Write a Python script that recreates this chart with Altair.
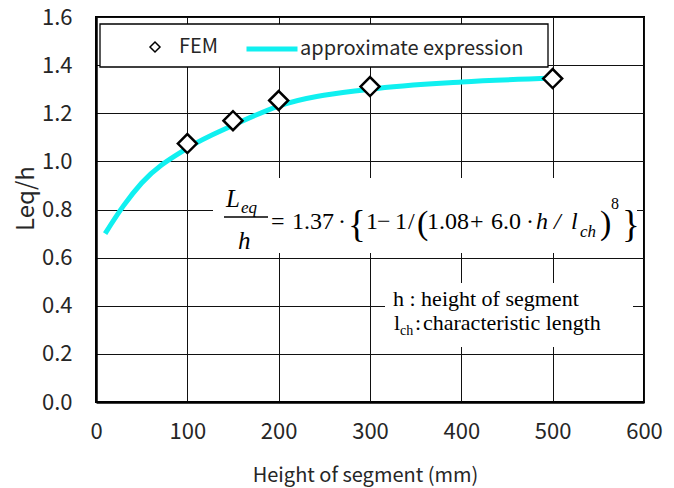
import altair as alt
import pandas as pd

# ---- data ----
fem_h = [100, 150, 200, 300, 500]
fem_v = [1.074, 1.169, 1.253, 1.311, 1.344]

approx_h = [10, 30, 50, 100, 150, 200, 300, 400, 500]
approx_v = [0.70, 0.815, 0.91, 1.055, 1.15, 1.23, 1.30, 1.33, 1.345]

x_ticks = [0, 100, 200, 300, 400, 500, 600]
y_ticks = [0.0, 0.2, 0.4, 0.6, 0.8, 1.0, 1.2, 1.4, 1.6]

FEM_LABEL = "FEM"
APPROX_LABEL = "approximate expression"
CYAN = "#10F0F0"
GOTHIC = "Noto Sans CJK JP"
SERIF = "Liberation Serif"
TXT = "#262626"

fem_df = pd.DataFrame({"h": fem_h, "v": fem_v, "s": FEM_LABEL})
approx_df = pd.DataFrame({"h": approx_h, "v": approx_v, "s2": APPROX_LABEL})
one = pd.DataFrame({"a": [0]})

L, T = 96, 17  # plot origin in page pixels


def X(px):
    return px - L


def Y(py):
    return py - T


def text(s, x, y, size, font=SERIF, style="normal", align="left",
         baseline="alphabetic", color="black"):
    return alt.Chart(one).mark_text(
        text=s, font=font, fontSize=size, fontStyle=style, align=align,
        baseline=baseline, color=color
    ).encode(x=alt.value(X(x)), y=alt.value(Y(y)))


def box(x1, y1, x2, y2, stroke=None, sw=0):
    kw = dict(fill="white", opacity=1)
    if stroke:
        kw.update(stroke=stroke, strokeWidth=sw)
    return alt.Chart(one).mark_rect(**kw).encode(
        x=alt.value(X(x1)), x2=alt.value(X(x2)),
        y=alt.value(Y(y1)), y2=alt.value(Y(y2)))


xs = alt.Scale(domain=[0, 600], nice=False)
ys = alt.Scale(domain=[0, 1.6], nice=False)

x_axis = alt.Axis(values=x_ticks, format="d", title="Height of segment (mm)",
                  titleX=269, titleY=73, titleAlign="center", titleBaseline="middle")
y_axis = alt.Axis(values=y_ticks, format=".1f", title="Leq/h",
                  titleX=-70, titleY=181, titleAlign="center", titleBaseline="middle")

legend_common = dict(orient="none", title=None, padding=0, labelLimit=400,
                     labelFont=GOTHIC, labelFontSize=20, labelColor=TXT)

line = alt.Chart(approx_df).mark_line(strokeWidth=5, interpolate="monotone").encode(
    x=alt.X("h:Q", scale=xs, axis=x_axis),
    y=alt.Y("v:Q", scale=ys, axis=y_axis),
    color=alt.Color("s2:N", scale=alt.Scale(domain=[APPROX_LABEL], range=[CYAN]),
                    legend=alt.Legend(legendX=148, legendY=4,
                                      symbolType="stroke", symbolSize=2601,
                                      symbolStrokeWidth=5, labelOffset=0,
                                      **legend_common)),
)

fem_legend = alt.Legend(legendX=49, legendY=20, symbolSize=100, symbolStrokeWidth=1.5,
                        symbolFillColor="white", symbolOpacity=1, labelOffset=14,
                        **legend_common)
points = alt.Chart(fem_df).mark_point(
    fill="white", strokeWidth=2.5, size=360, opacity=1, fillOpacity=1
).encode(
    x=alt.X("h:Q", scale=xs),
    y=alt.Y("v:Q", scale=ys),
    shape=alt.Shape("s:N", scale=alt.Scale(domain=[FEM_LABEL], range=["diamond"]),
                    legend=fem_legend),
    stroke=alt.Stroke("s:N", scale=alt.Scale(domain=[FEM_LABEL], range=["black"]),
                      legend=fem_legend),
)

# white boxes (legend frame, formula, notes)
legend_box = box(100, 24, 548, 67, stroke="black", sw=1.3)
formula_box = box(213, 178, 637, 253)
note_box = box(385, 283, 633, 347)

# formula  L_eq / h = 1.37 · {1 − 1/(1.08 + 6.0 · h / l_ch)^8}
frac_bar = alt.Chart(one).mark_rule(color="black", strokeWidth=1.3).encode(
    x=alt.value(X(224)), x2=alt.value(X(268)), y=alt.value(Y(217)))
formula = [
    text("L", 226, 207, 25, style="italic"),
    text("eq", 241, 213, 17, style="italic"),
    frac_bar,
    text("h", 238, 249, 25, style="italic"),
    text("=", 271, 229, 24),
    text("1.37", 292, 229, 24),
    text("·", 338, 229, 24),
    text("{", 348, 237, 37),
    text("1", 366, 229, 24),
    text("−", 377, 229, 24),
    text("1", 395, 229, 24),
    text("/", 408, 229, 24),
    text("(", 417, 234, 34),
    text("1.08", 427, 229, 24),
    text("+", 470, 229, 24),
    text("6.0", 491, 229, 24),
    text("·", 526, 229, 24),
    text("h", 536, 229, 24, style="italic"),
    text("/", 554, 229, 24, style="italic"),
    text("l", 571, 229, 24, style="italic"),
    text("ch", 580, 237, 17, style="italic"),
    text(")", 600, 234, 34),
    text("8", 611, 209, 16),
    text("}", 622, 237, 37),
]

notes = [
    text("h : height  of segment", 393, 306, 22),
    text("l", 394, 330, 22),
    text("ch", 400, 335, 14),
    text(":", 415, 330, 22),
    text("characteristic  length", 423, 330, 22),
]

chart = alt.layer(
    formula_box, note_box, *formula, *notes, line, points, legend_box
).properties(
    width=548, height=385,
    autosize=alt.AutoSizeParams(type="none"),
    padding={"left": L, "top": T, "right": 674 - L - 548, "bottom": 488 - T - 385},
).configure_view(
    stroke="black", strokeWidth=2
).configure_axis(
    labelFont=GOTHIC, labelFontSize=22, labelColor=TXT, labelFlush=False,
    titleFont=GOTHIC, titleFontSize=20, titleFontWeight="normal", titleColor=TXT,
    ticks=False, grid=True, gridColor="#111", gridWidth=1, gridOpacity=1,
    domainColor="black", domainWidth=2.5,
).configure_axisY(
    labelPadding=24, titleFontSize=24
).configure_axisX(
    labelPadding=19
)

chart.save("out.html", embed_options={"renderer": "svg", "actions": False})
